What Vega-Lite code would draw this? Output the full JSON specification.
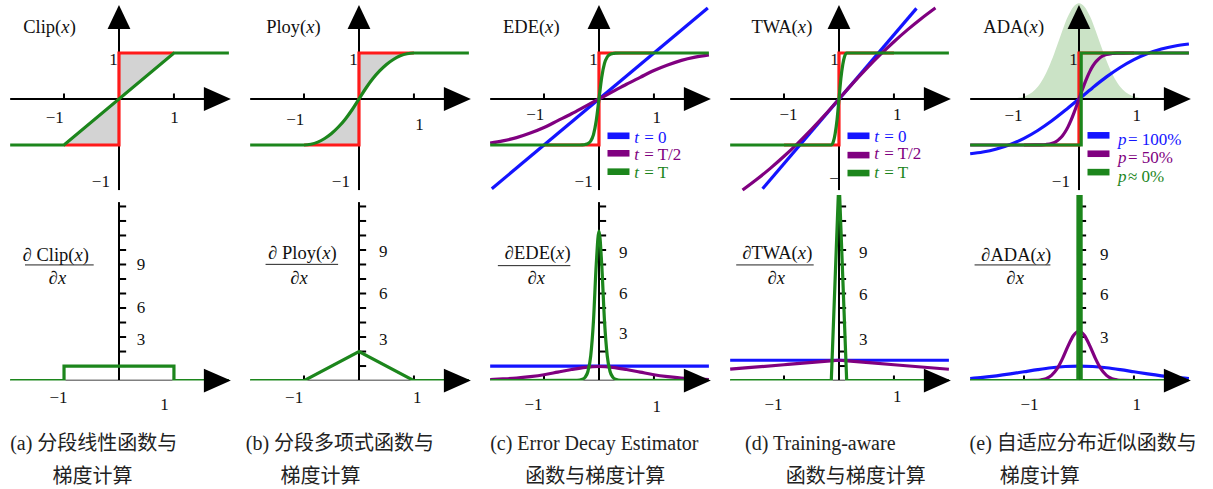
{
  "$schema": "https://vega.github.io/schema/vega-lite/v6.json",
  "padding": 0,
  "spacing": 0,
  "background": "white",
  "config": {"view": {"stroke": null}, "font": "Liberation Serif"},
  "datasets": {
    "top": [
      {"p":"a","k":"fill","g":1,"x":-1,"y":-1,"y2":-1},{"p":"a","k":"fill","g":1,"x":0,"y":0,"y2":-1},
      {"p":"a","k":"fill","g":2,"x":0,"y":1,"y2":0},{"p":"a","k":"fill","g":2,"x":1,"y":1,"y2":1},
      {"p":"b","k":"fill","g":1,"x":-1,"y":-1,"y2":-1},{"p":"b","k":"fill","g":1,"x":-0.875,"y":-0.984,"y2":-1},{"p":"b","k":"fill","g":1,"x":-0.75,"y":-0.938,"y2":-1},{"p":"b","k":"fill","g":1,"x":-0.625,"y":-0.859,"y2":-1},{"p":"b","k":"fill","g":1,"x":-0.5,"y":-0.75,"y2":-1},{"p":"b","k":"fill","g":1,"x":-0.375,"y":-0.609,"y2":-1},{"p":"b","k":"fill","g":1,"x":-0.25,"y":-0.438,"y2":-1},{"p":"b","k":"fill","g":1,"x":-0.125,"y":-0.234,"y2":-1},{"p":"b","k":"fill","g":1,"x":0,"y":0,"y2":-1},
      {"p":"b","k":"fill","g":2,"x":0,"y":1,"y2":0},{"p":"b","k":"fill","g":2,"x":0.125,"y":1,"y2":0.234},{"p":"b","k":"fill","g":2,"x":0.25,"y":1,"y2":0.438},{"p":"b","k":"fill","g":2,"x":0.375,"y":1,"y2":0.609},{"p":"b","k":"fill","g":2,"x":0.5,"y":1,"y2":0.75},{"p":"b","k":"fill","g":2,"x":0.625,"y":1,"y2":0.859},{"p":"b","k":"fill","g":2,"x":0.75,"y":1,"y2":0.938},{"p":"b","k":"fill","g":2,"x":0.875,"y":1,"y2":0.984},{"p":"b","k":"fill","g":2,"x":1,"y":1,"y2":1},
      {"p":"e","k":"shade","x":-1.4,"y":0.001},{"p":"e","k":"shade","x":-1.3,"y":0.004},{"p":"e","k":"shade","x":-1.2,"y":0.011},{"p":"e","k":"shade","x":-1.1,"y":0.025},{"p":"e","k":"shade","x":-1.0,"y":0.054},{"p":"e","k":"shade","x":-0.9,"y":0.109},{"p":"e","k":"shade","x":-0.8,"y":0.201},{"p":"e","k":"shade","x":-0.7,"y":0.348},{"p":"e","k":"shade","x":-0.6,"y":0.56},{"p":"e","k":"shade","x":-0.5,"y":0.835},{"p":"e","k":"shade","x":-0.4,"y":1.16},{"p":"e","k":"shade","x":-0.3,"y":1.497},{"p":"e","k":"shade","x":-0.2,"y":1.797},{"p":"e","k":"shade","x":-0.1,"y":2.005},{"p":"e","k":"shade","x":0,"y":2.08},{"p":"e","k":"shade","x":0.1,"y":2.005},{"p":"e","k":"shade","x":0.2,"y":1.797},{"p":"e","k":"shade","x":0.3,"y":1.497},{"p":"e","k":"shade","x":0.4,"y":1.16},{"p":"e","k":"shade","x":0.5,"y":0.835},{"p":"e","k":"shade","x":0.6,"y":0.56},{"p":"e","k":"shade","x":0.7,"y":0.348},{"p":"e","k":"shade","x":0.8,"y":0.201},{"p":"e","k":"shade","x":0.9,"y":0.109},{"p":"e","k":"shade","x":1.0,"y":0.054},{"p":"e","k":"shade","x":1.1,"y":0.025},{"p":"e","k":"shade","x":1.2,"y":0.011},{"p":"e","k":"shade","x":1.3,"y":0.004},{"p":"e","k":"shade","x":1.4,"y":0.001},
      {"p":"a","k":"xt","x":-1},{"p":"a","k":"xt","x":1},{"p":"b","k":"xt","x":-1},{"p":"b","k":"xt","x":1},{"p":"c","k":"xt","x":-1},{"p":"c","k":"xt","x":1},{"p":"d","k":"xt","x":-1},{"p":"d","k":"xt","x":1},{"p":"e","k":"xt","x":-1},{"p":"e","k":"xt","x":1},
      {"p":"a","k":"sign","x":-1,"y":-1},{"p":"a","k":"sign","x":0,"y":-1},{"p":"a","k":"sign","x":0,"y":1},{"p":"a","k":"sign","x":1,"y":1},
      {"p":"b","k":"sign","x":-1,"y":-1},{"p":"b","k":"sign","x":0,"y":-1},{"p":"b","k":"sign","x":0,"y":1},{"p":"b","k":"sign","x":1,"y":1},
      {"p":"c","k":"sign","x":-1,"y":-1},{"p":"c","k":"sign","x":0,"y":-1},{"p":"c","k":"sign","x":0,"y":1},{"p":"c","k":"sign","x":1,"y":1},
      {"p":"d","k":"sign","x":-1,"y":-1},{"p":"d","k":"sign","x":0,"y":-1},{"p":"d","k":"sign","x":0,"y":1},{"p":"d","k":"sign","x":1,"y":1},
      {"p":"e","k":"sign","x":-1,"y":-1},{"p":"e","k":"sign","x":0,"y":-1},{"p":"e","k":"sign","x":0,"y":1},{"p":"e","k":"sign","x":1,"y":1},
      {"p":"c","k":"blue","x":-1.95,"y":-1.95},{"p":"c","k":"blue","x":1.98,"y":1.98},
      {"p":"d","k":"blue","x":-1.39,"y":-1.95},{"p":"d","k":"blue","x":1.41,"y":1.97},
      {"p":"e","k":"blue","x":-1.98,"y":-1.19},{"p":"e","k":"blue","x":-1.75,"y":-1.153},{"p":"e","k":"blue","x":-1.5,"y":-1.086},{"p":"e","k":"blue","x":-1.25,"y":-0.988},{"p":"e","k":"blue","x":-1,"y":-0.856},{"p":"e","k":"blue","x":-0.75,"y":-0.685},{"p":"e","k":"blue","x":-0.5,"y":-0.48},{"p":"e","k":"blue","x":-0.25,"y":-0.247},{"p":"e","k":"blue","x":0,"y":0},{"p":"e","k":"blue","x":0.25,"y":0.247},{"p":"e","k":"blue","x":0.5,"y":0.48},{"p":"e","k":"blue","x":0.75,"y":0.685},{"p":"e","k":"blue","x":1,"y":0.856},{"p":"e","k":"blue","x":1.25,"y":0.988},{"p":"e","k":"blue","x":1.5,"y":1.086},{"p":"e","k":"blue","x":1.75,"y":1.153},{"p":"e","k":"blue","x":2.0,"y":1.196},
      {"p":"c","k":"purple","x":-1.98,"y":-0.96},{"p":"c","k":"purple","x":-1.75,"y":-0.91},{"p":"c","k":"purple","x":-1.5,"y":-0.84},{"p":"c","k":"purple","x":-1.25,"y":-0.74},{"p":"c","k":"purple","x":-1,"y":-0.62},{"p":"c","k":"purple","x":-0.75,"y":-0.47},{"p":"c","k":"purple","x":-0.5,"y":-0.32},{"p":"c","k":"purple","x":-0.25,"y":-0.16},{"p":"c","k":"purple","x":0,"y":0},{"p":"c","k":"purple","x":0.25,"y":0.16},{"p":"c","k":"purple","x":0.5,"y":0.32},{"p":"c","k":"purple","x":0.75,"y":0.47},{"p":"c","k":"purple","x":1,"y":0.62},{"p":"c","k":"purple","x":1.25,"y":0.74},{"p":"c","k":"purple","x":1.5,"y":0.84},{"p":"c","k":"purple","x":1.75,"y":0.91},{"p":"c","k":"purple","x":2.0,"y":0.96},
      {"p":"d","k":"purple","x":-1.755,"y":-1.98},{"p":"d","k":"purple","x":-1.5,"y":-1.751},{"p":"d","k":"purple","x":-1.25,"y":-1.508},{"p":"d","k":"purple","x":-1,"y":-1.245},{"p":"d","k":"purple","x":-0.75,"y":-0.963},{"p":"d","k":"purple","x":-0.5,"y":-0.661},{"p":"d","k":"purple","x":-0.25,"y":-0.34},{"p":"d","k":"purple","x":0,"y":0},{"p":"d","k":"purple","x":0.25,"y":0.34},{"p":"d","k":"purple","x":0.5,"y":0.661},{"p":"d","k":"purple","x":0.75,"y":0.963},{"p":"d","k":"purple","x":1,"y":1.245},{"p":"d","k":"purple","x":1.25,"y":1.508},{"p":"d","k":"purple","x":1.5,"y":1.751},{"p":"d","k":"purple","x":1.755,"y":1.98},
      {"p":"e","k":"purple","x":-1.98,"y":-1},{"p":"e","k":"purple","x":-1,"y":-1},{"p":"e","k":"purple","x":-0.8,"y":-0.9993},{"p":"e","k":"purple","x":-0.7,"y":-0.997},{"p":"e","k":"purple","x":-0.6,"y":-0.9893},{"p":"e","k":"purple","x":-0.5,"y":-0.9675},{"p":"e","k":"purple","x":-0.4,"y":-0.9128},{"p":"e","k":"purple","x":-0.35,"y":-0.8631},{"p":"e","k":"purple","x":-0.3,"y":-0.7981},{"p":"e","k":"purple","x":-0.25,"y":-0.7126},{"p":"e","k":"purple","x":-0.2,"y":-0.6057},{"p":"e","k":"purple","x":-0.15,"y":-0.4772},{"p":"e","k":"purple","x":-0.1,"y":-0.3295},{"p":"e","k":"purple","x":-0.05,"y":-0.1687},{"p":"e","k":"purple","x":0,"y":0},{"p":"e","k":"purple","x":0.05,"y":0.1687},{"p":"e","k":"purple","x":0.1,"y":0.3295},{"p":"e","k":"purple","x":0.15,"y":0.4772},{"p":"e","k":"purple","x":0.2,"y":0.6057},{"p":"e","k":"purple","x":0.25,"y":0.7126},{"p":"e","k":"purple","x":0.3,"y":0.7981},{"p":"e","k":"purple","x":0.35,"y":0.8631},{"p":"e","k":"purple","x":0.4,"y":0.9128},{"p":"e","k":"purple","x":0.5,"y":0.9675},{"p":"e","k":"purple","x":0.6,"y":0.9893},{"p":"e","k":"purple","x":0.7,"y":0.997},{"p":"e","k":"purple","x":0.8,"y":0.9993},{"p":"e","k":"purple","x":1,"y":1},{"p":"e","k":"purple","x":2.0,"y":1},
      {"p":"a","k":"gpw","x":-1.98,"y":-1},{"p":"a","k":"gpw","x":-1,"y":-1},{"p":"a","k":"gpw","x":1,"y":1},{"p":"a","k":"gpw","x":2.0,"y":1},
      {"p":"e","k":"gpw","x":-1.98,"y":-1},{"p":"e","k":"gpw","x":0.04,"y":-1},{"p":"e","k":"gpw","x":0.04,"y":1},{"p":"e","k":"gpw","x":2.0,"y":1},
      {"p":"b","k":"gsm","x":-1.98,"y":-1},{"p":"b","k":"gsm","x":-1,"y":-1},{"p":"b","k":"gsm","x":-0.875,"y":-0.984},{"p":"b","k":"gsm","x":-0.75,"y":-0.938},{"p":"b","k":"gsm","x":-0.625,"y":-0.859},{"p":"b","k":"gsm","x":-0.5,"y":-0.75},{"p":"b","k":"gsm","x":-0.375,"y":-0.609},{"p":"b","k":"gsm","x":-0.25,"y":-0.438},{"p":"b","k":"gsm","x":-0.125,"y":-0.234},{"p":"b","k":"gsm","x":0,"y":0},{"p":"b","k":"gsm","x":0.125,"y":0.234},{"p":"b","k":"gsm","x":0.25,"y":0.438},{"p":"b","k":"gsm","x":0.375,"y":0.609},{"p":"b","k":"gsm","x":0.5,"y":0.75},{"p":"b","k":"gsm","x":0.625,"y":0.859},{"p":"b","k":"gsm","x":0.75,"y":0.938},{"p":"b","k":"gsm","x":0.875,"y":0.984},{"p":"b","k":"gsm","x":1,"y":1},{"p":"b","k":"gsm","x":2.0,"y":1},
      {"p":"c","k":"gsm","x":-1.98,"y":-1},{"p":"c","k":"gsm","x":-0.4,"y":-1},{"p":"c","k":"gsm","x":-0.3,"y":-0.996},{"p":"c","k":"gsm","x":-0.25,"y":-0.988},{"p":"c","k":"gsm","x":-0.2,"y":-0.968},{"p":"c","k":"gsm","x":-0.15,"y":-0.913},{"p":"c","k":"gsm","x":-0.1,"y":-0.774},{"p":"c","k":"gsm","x":-0.05,"y":-0.474},{"p":"c","k":"gsm","x":0,"y":0},{"p":"c","k":"gsm","x":0.05,"y":0.474},{"p":"c","k":"gsm","x":0.1,"y":0.774},{"p":"c","k":"gsm","x":0.15,"y":0.913},{"p":"c","k":"gsm","x":0.2,"y":0.968},{"p":"c","k":"gsm","x":0.25,"y":0.988},{"p":"c","k":"gsm","x":0.3,"y":0.996},{"p":"c","k":"gsm","x":0.4,"y":1},{"p":"c","k":"gsm","x":2.0,"y":1},
      {"p":"d","k":"gsm","x":-1.98,"y":-1},{"p":"d","k":"gsm","x":-0.14,"y":-1},{"p":"d","k":"gsm","x":-0.1,"y":-0.92},{"p":"d","k":"gsm","x":-0.07,"y":-0.755},{"p":"d","k":"gsm","x":-0.035,"y":-0.449},{"p":"d","k":"gsm","x":0,"y":0},{"p":"d","k":"gsm","x":0.035,"y":0.449},{"p":"d","k":"gsm","x":0.07,"y":0.755},{"p":"d","k":"gsm","x":0.1,"y":0.92},{"p":"d","k":"gsm","x":0.14,"y":1},{"p":"d","k":"gsm","x":2.0,"y":1},
      {"p":"a","k":"lab","x":-0.1,"y":0.85,"t":"1"},{"p":"a","k":"lab","x":-0.33,"y":-1.8,"t":"−1"},{"p":"a","k":"lab","x":-1.17,"y":-0.41,"t":"−1"},{"p":"a","k":"lab","x":1.01,"y":-0.41,"t":"1"},
      {"p":"b","k":"lab","x":-0.1,"y":0.85,"t":"1"},{"p":"b","k":"lab","x":-0.33,"y":-1.8,"t":"−1"},{"p":"b","k":"lab","x":-1.16,"y":-0.46,"t":"−1"},{"p":"b","k":"lab","x":1.1,"y":-0.57,"t":"1"},
      {"p":"c","k":"lab","x":-0.1,"y":0.85,"t":"1"},{"p":"c","k":"lab","x":-0.28,"y":-1.8,"t":"−1"},{"p":"c","k":"lab","x":-1.16,"y":-0.35,"t":"−1"},{"p":"c","k":"lab","x":1.05,"y":-0.42,"t":"1"},
      {"p":"d","k":"lab","x":-0.08,"y":0.85,"t":"1"},{"p":"d","k":"lab","x":-0.09,"y":-1.74,"t":"−"},{"p":"d","k":"lab","x":-0.92,"y":-0.35,"t":"−1"},{"p":"d","k":"lab","x":1.06,"y":-0.35,"t":"1"},
      {"p":"e","k":"lab","x":-0.1,"y":0.85,"t":"1"},{"p":"e","k":"lab","x":-0.33,"y":-1.8,"t":"−1"},{"p":"e","k":"lab","x":-1.19,"y":-0.38,"t":"−1"},{"p":"e","k":"lab","x":1.05,"y":-0.38,"t":"1"},
      {"p":"a","k":"title","x":-1.05,"y":1.57,"t":"Clip("},{"p":"b","k":"title","x":-0.96,"y":1.57,"t":"Ploy("},{"p":"c","k":"title","x":-0.98,"y":1.57,"t":"EDE("},{"p":"d","k":"title","x":-0.75,"y":1.57,"t":"TWA("},{"p":"e","k":"title","x":-0.9,"y":1.57,"t":"ADA("},
      {"p":"c","k":"sw","s":"s1","x":0.355,"y":-0.8},{"p":"c","k":"sw","s":"s2","x":0.355,"y":-1.18},{"p":"c","k":"sw","s":"s3","x":0.355,"y":-1.58},
      {"p":"d","k":"sw","s":"s1","x":0.355,"y":-0.8},{"p":"d","k":"sw","s":"s2","x":0.355,"y":-1.22},{"p":"d","k":"sw","s":"s3","x":0.355,"y":-1.61},
      {"p":"e","k":"sw","s":"s1","x":0.355,"y":-0.79},{"p":"e","k":"sw","s":"s2","x":0.355,"y":-1.19},{"p":"e","k":"sw","s":"s3","x":0.355,"y":-1.59},
      {"p":"c","k":"lt","s":"s1","x":0.64,"y":-0.85,"t":"t","r":"= 0"},{"p":"c","k":"lt","s":"s2","x":0.64,"y":-1.21,"t":"t","r":"= T/2"},{"p":"c","k":"lt","s":"s3","x":0.64,"y":-1.6,"t":"t","r":"= T"},
      {"p":"d","k":"lt","s":"s1","x":0.64,"y":-0.82,"t":"t","r":"= 0"},{"p":"d","k":"lt","s":"s2","x":0.64,"y":-1.2,"t":"t","r":"= T/2"},{"p":"d","k":"lt","s":"s3","x":0.64,"y":-1.61,"t":"t","r":"= T"},
      {"p":"e","k":"lt","s":"s1","x":0.71,"y":-0.89,"t":"p","r":"= 100%"},{"p":"e","k":"lt","s":"s2","x":0.71,"y":-1.28,"t":"p","r":"= 50%"},{"p":"e","k":"lt","s":"s3","x":0.71,"y":-1.69,"t":"p","r":"≈ 0%"}
    ],
    "bot": [
      {"p":"a","k":"yt","y":1},{"p":"a","k":"yt","y":2},{"p":"a","k":"yt","y":3},{"p":"a","k":"yt","y":4},{"p":"a","k":"yt","y":5},{"p":"a","k":"yt","y":6},{"p":"a","k":"yt","y":7},{"p":"a","k":"yt","y":8},{"p":"a","k":"yt","y":9},{"p":"a","k":"yt","y":10},{"p":"a","k":"yt","y":11},{"p":"a","k":"yt","y":12},
      {"p":"b","k":"yt","y":1},{"p":"b","k":"yt","y":2},{"p":"b","k":"yt","y":3},{"p":"b","k":"yt","y":4},{"p":"b","k":"yt","y":5},{"p":"b","k":"yt","y":6},{"p":"b","k":"yt","y":7},{"p":"b","k":"yt","y":8},{"p":"b","k":"yt","y":9},{"p":"b","k":"yt","y":10},{"p":"b","k":"yt","y":11},{"p":"b","k":"yt","y":12},
      {"p":"c","k":"yt","y":1},{"p":"c","k":"yt","y":2},{"p":"c","k":"yt","y":3},{"p":"c","k":"yt","y":4},{"p":"c","k":"yt","y":5},{"p":"c","k":"yt","y":6},{"p":"c","k":"yt","y":7},{"p":"c","k":"yt","y":8},{"p":"c","k":"yt","y":9},{"p":"c","k":"yt","y":10},{"p":"c","k":"yt","y":11},{"p":"c","k":"yt","y":12},
      {"p":"d","k":"yt","y":1},{"p":"d","k":"yt","y":2},{"p":"d","k":"yt","y":3},{"p":"d","k":"yt","y":4},{"p":"d","k":"yt","y":5},{"p":"d","k":"yt","y":6},{"p":"d","k":"yt","y":7},{"p":"d","k":"yt","y":8},{"p":"d","k":"yt","y":9},{"p":"d","k":"yt","y":10},{"p":"d","k":"yt","y":11},{"p":"d","k":"yt","y":12},
      {"p":"e","k":"yt","y":1},{"p":"e","k":"yt","y":2},{"p":"e","k":"yt","y":3},{"p":"e","k":"yt","y":4},{"p":"e","k":"yt","y":5},{"p":"e","k":"yt","y":6},{"p":"e","k":"yt","y":7},{"p":"e","k":"yt","y":8},{"p":"e","k":"yt","y":9},{"p":"e","k":"yt","y":10},{"p":"e","k":"yt","y":11},{"p":"e","k":"yt","y":12},
      {"p":"a","k":"xt","x":-1},{"p":"a","k":"xt","x":1},{"p":"b","k":"xt","x":-1},{"p":"b","k":"xt","x":1},{"p":"c","k":"xt","x":-1},{"p":"c","k":"xt","x":1},{"p":"d","k":"xt","x":-1},{"p":"d","k":"xt","x":1},{"p":"e","k":"xt","x":-1},{"p":"e","k":"xt","x":1},
      {"p":"c","k":"blue","x":-1.98,"y":1},{"p":"c","k":"blue","x":2.0,"y":1},
      {"p":"d","k":"blue","x":-1.98,"y":1.4},{"p":"d","k":"blue","x":2.0,"y":1.4},
      {"p":"e","k":"blue","x":-1.98,"y":0.141},{"p":"e","k":"blue","x":-1.75,"y":0.216},{"p":"e","k":"blue","x":-1.5,"y":0.325},{"p":"e","k":"blue","x":-1.25,"y":0.458},{"p":"e","k":"blue","x":-1,"y":0.607},{"p":"e","k":"blue","x":-0.75,"y":0.755},{"p":"e","k":"blue","x":-0.5,"y":0.883},{"p":"e","k":"blue","x":-0.25,"y":0.969},{"p":"e","k":"blue","x":0,"y":1},{"p":"e","k":"blue","x":0.25,"y":0.969},{"p":"e","k":"blue","x":0.5,"y":0.883},{"p":"e","k":"blue","x":0.75,"y":0.755},{"p":"e","k":"blue","x":1,"y":0.607},{"p":"e","k":"blue","x":1.25,"y":0.458},{"p":"e","k":"blue","x":1.5,"y":0.325},{"p":"e","k":"blue","x":1.75,"y":0.216},{"p":"e","k":"blue","x":2.0,"y":0.135},
      {"p":"c","k":"purple","x":-1.98,"y":0.07},{"p":"c","k":"purple","x":-1.75,"y":0.11},{"p":"c","k":"purple","x":-1.5,"y":0.17},{"p":"c","k":"purple","x":-1.25,"y":0.27},{"p":"c","k":"purple","x":-1,"y":0.4},{"p":"c","k":"purple","x":-0.75,"y":0.58},{"p":"c","k":"purple","x":-0.5,"y":0.76},{"p":"c","k":"purple","x":-0.25,"y":0.91},{"p":"c","k":"purple","x":0,"y":0.97},{"p":"c","k":"purple","x":0.25,"y":0.91},{"p":"c","k":"purple","x":0.5,"y":0.76},{"p":"c","k":"purple","x":0.75,"y":0.58},{"p":"c","k":"purple","x":1,"y":0.4},{"p":"c","k":"purple","x":1.25,"y":0.27},{"p":"c","k":"purple","x":1.5,"y":0.17},{"p":"c","k":"purple","x":1.75,"y":0.11},{"p":"c","k":"purple","x":2.0,"y":0.07},
      {"p":"d","k":"purple","x":-1.98,"y":0.786},{"p":"d","k":"purple","x":-1,"y":1.09},{"p":"d","k":"purple","x":-0.1,"y":1.369},{"p":"d","k":"purple","x":0,"y":1.4},{"p":"d","k":"purple","x":0.1,"y":1.369},{"p":"d","k":"purple","x":1,"y":1.09},{"p":"d","k":"purple","x":2.0,"y":0.78},
      {"p":"e","k":"purple","x":-1.98,"y":0},{"p":"e","k":"purple","x":-1,"y":0},{"p":"e","k":"purple","x":-0.8,"y":0.01},{"p":"e","k":"purple","x":-0.7,"y":0.04},{"p":"e","k":"purple","x":-0.6,"y":0.13},{"p":"e","k":"purple","x":-0.5,"y":0.354},{"p":"e","k":"purple","x":-0.4,"y":0.8},{"p":"e","k":"purple","x":-0.3,"y":1.51},{"p":"e","k":"purple","x":-0.2,"y":2.37},{"p":"e","k":"purple","x":-0.1,"y":3.11},{"p":"e","k":"purple","x":0,"y":3.4},{"p":"e","k":"purple","x":0.1,"y":3.11},{"p":"e","k":"purple","x":0.2,"y":2.37},{"p":"e","k":"purple","x":0.3,"y":1.51},{"p":"e","k":"purple","x":0.4,"y":0.8},{"p":"e","k":"purple","x":0.5,"y":0.354},{"p":"e","k":"purple","x":0.6,"y":0.13},{"p":"e","k":"purple","x":0.7,"y":0.04},{"p":"e","k":"purple","x":0.8,"y":0.01},{"p":"e","k":"purple","x":1,"y":0},{"p":"e","k":"purple","x":2.0,"y":0},
      {"p":"a","k":"gpw","x":-1.98,"y":0},{"p":"a","k":"gpw","x":-1,"y":0},{"p":"a","k":"gpw","x":-1,"y":1},{"p":"a","k":"gpw","x":1,"y":1},{"p":"a","k":"gpw","x":1,"y":0},{"p":"a","k":"gpw","x":2.0,"y":0},
      {"p":"b","k":"gpw","x":-1.98,"y":0},{"p":"b","k":"gpw","x":-1,"y":0},{"p":"b","k":"gpw","x":0,"y":2},{"p":"b","k":"gpw","x":1,"y":0},{"p":"b","k":"gpw","x":2.0,"y":0},
      {"p":"d","k":"gpw","x":-1.98,"y":0},{"p":"d","k":"gpw","x":-0.14,"y":0},{"p":"d","k":"gpw","x":0,"y":14},{"p":"d","k":"gpw","x":0.14,"y":0},{"p":"d","k":"gpw","x":2.0,"y":0},
      {"p":"e","k":"gpw","x":-1.98,"y":0},{"p":"e","k":"gpw","x":-0.02,"y":0},{"p":"e","k":"gpw","x":0.01,"y":200},{"p":"e","k":"gpw","x":0.04,"y":0},{"p":"e","k":"gpw","x":2.0,"y":0},
      {"p":"c","k":"gsm","x":-1.98,"y":0},{"p":"c","k":"gsm","x":-0.4,"y":0.01},{"p":"c","k":"gsm","x":-0.3,"y":0.09},{"p":"c","k":"gsm","x":-0.25,"y":0.24},{"p":"c","k":"gsm","x":-0.2,"y":0.64},{"p":"c","k":"gsm","x":-0.15,"y":1.71},{"p":"c","k":"gsm","x":-0.1,"y":4.13},{"p":"c","k":"gsm","x":-0.05,"y":7.99},{"p":"c","k":"gsm","x":0,"y":10.3},{"p":"c","k":"gsm","x":0.05,"y":7.99},{"p":"c","k":"gsm","x":0.1,"y":4.13},{"p":"c","k":"gsm","x":0.15,"y":1.71},{"p":"c","k":"gsm","x":0.2,"y":0.64},{"p":"c","k":"gsm","x":0.25,"y":0.24},{"p":"c","k":"gsm","x":0.3,"y":0.09},{"p":"c","k":"gsm","x":0.4,"y":0.01},{"p":"c","k":"gsm","x":2.0,"y":0},
      {"p":"a","k":"lab","x":0.4,"y":7.97,"t":"9"},{"p":"a","k":"lab","x":0.4,"y":5.0,"t":"6"},{"p":"a","k":"lab","x":0.4,"y":2.8,"t":"3"},{"p":"a","k":"lab","x":-1.1,"y":-1.21,"t":"−1"},{"p":"a","k":"lab","x":0.83,"y":-1.69,"t":"1"},
      {"p":"b","k":"lab","x":0.44,"y":8.86,"t":"9"},{"p":"b","k":"lab","x":0.44,"y":5.97,"t":"6"},{"p":"b","k":"lab","x":0.44,"y":2.8,"t":"3"},{"p":"b","k":"lab","x":-1.18,"y":-1.21,"t":"−1"},{"p":"b","k":"lab","x":1.06,"y":-1.21,"t":"1"},
      {"p":"c","k":"lab","x":0.44,"y":8.8,"t":"9"},{"p":"c","k":"lab","x":0.44,"y":5.97,"t":"6"},{"p":"c","k":"lab","x":0.44,"y":3.2,"t":"3"},{"p":"c","k":"lab","x":-1.19,"y":-1.69,"t":"−1"},{"p":"c","k":"lab","x":1.05,"y":-1.8,"t":"1"},
      {"p":"d","k":"lab","x":0.44,"y":8.8,"t":"9"},{"p":"d","k":"lab","x":0.44,"y":5.9,"t":"6"},{"p":"d","k":"lab","x":0.44,"y":2.8,"t":"3"},{"p":"d","k":"lab","x":-1.19,"y":-1.69,"t":"−1"},{"p":"d","k":"lab","x":1.06,"y":-1.11,"t":"1"},
      {"p":"e","k":"lab","x":0.46,"y":8.65,"t":"9"},{"p":"e","k":"lab","x":0.46,"y":5.9,"t":"6"},{"p":"e","k":"lab","x":0.46,"y":2.9,"t":"3"},{"p":"e","k":"lab","x":-0.9,"y":-1.69,"t":"−1"},{"p":"e","k":"lab","x":1.05,"y":-1.69,"t":"1"},
      {"p":"a","k":"num","x":-0.81,"y":8.66,"t":"∂ Clip("},{"p":"b","k":"num","x":-0.67,"y":8.8,"t":"∂ Ploy("},{"p":"c","k":"num","x":-0.78,"y":8.8,"t":"∂EDE("},{"p":"d","k":"num","x":-0.75,"y":8.8,"t":"∂TWA("},{"p":"e","k":"num","x":-0.77,"y":8.66,"t":"∂ADA("},
      {"p":"a","k":"fl","x":-1.71,"x2":-0.46,"y":7.97},{"p":"b","k":"fl","x":-1.7,"x2":-0.38,"y":8.01},{"p":"c","k":"fl","x":-1.84,"x2":-0.52,"y":7.92},{"p":"d","k":"fl","x":-1.87,"x2":-0.46,"y":7.97},{"p":"e","k":"fl","x":-1.9,"x2":-0.52,"y":7.97},
      {"p":"a","k":"den","x":-1.12,"y":7.07,"t":"∂x"},{"p":"b","k":"den","x":-1.09,"y":7.07,"t":"∂x"},{"p":"c","k":"den","x":-1.14,"y":7.07,"t":"∂x"},{"p":"d","k":"den","x":-1.14,"y":7.07,"t":"∂x"},{"p":"e","k":"den","x":-1.16,"y":7.07,"t":"∂x"}
    ],
    "cap": [
      {"p":"a","t1":"(a) 分段线性函数与","t2":"梯度计算","x1":-1.98,"x2":-1.21},
      {"p":"b","t1":"(b) 分段多项式函数与","t2":"梯度计算","x1":-2.06,"x2":-1.43},
      {"p":"c","t1":"(c) Error Decay Estimator","t2":"函数与梯度计算","x1":-1.98,"x2":-1.34},
      {"p":"d","t1":"(d) Training-aware","t2":"函数与梯度计算","x1":-1.71,"x2":-0.97},
      {"p":"e","t1":"(e) 自适应分布近似函数与","t2":"梯度计算","x1":-1.99,"x2":-1.44}
    ]
  },
  "vconcat": [
    {
      "data": {"name": "top"},
      "spacing": 0,
      "facet": {"column": {"field": "p", "type": "nominal", "title": null, "header": {"labels": false, "title": null}}},
      "spec": {
        "width": 240,
        "height": 195,
        "layer": [
          {"transform": [{"filter": "datum.k == 'fill'"}], "mark": {"type": "area", "color": "#d3d3d3"},
           "encoding": {"x": {"field": "x", "type": "quantitative", "scale": {"domain": [-2.165, 2.202], "nice": false, "zero": false}, "axis": null},
                        "y": {"field": "y", "type": "quantitative", "scale": {"domain": [-2.087, 2.152], "nice": false, "zero": false}, "axis": null},
                        "y2": {"field": "y2"}, "detail": {"field": "g", "type": "nominal"}}},
          {"transform": [{"filter": "datum.k == 'shade'"}], "mark": {"type": "area", "color": "#cbe3c6", "interpolate": "monotone"},
           "encoding": {"x": {"field": "x", "type": "quantitative"}, "y": {"field": "y", "type": "quantitative"}, "y2": {"datum": 0}}},
          {"transform": [{"filter": "datum.k == 'title'"}], "mark": {"type": "rule", "color": "black", "strokeWidth": 2},
           "encoding": {"x": {"datum": -1.98, "type": "quantitative"}, "x2": {"datum": 1.6}, "y": {"datum": 0, "type": "quantitative"}}},
          {"transform": [{"filter": "datum.k == 'title'"}], "mark": {"type": "rule", "color": "black", "strokeWidth": 2},
           "encoding": {"x": {"datum": 0, "type": "quantitative"}, "y": {"datum": -1.98, "type": "quantitative"}, "y2": {"datum": 1.7}}},
          {"transform": [{"filter": "datum.k == 'xt'"}], "mark": {"type": "rule", "color": "black", "strokeWidth": 2},
           "encoding": {"x": {"field": "x", "type": "quantitative"}, "y": {"datum": 0, "type": "quantitative"}, "y2": {"datum": 0.12}}},
          {"transform": [{"filter": "datum.k == 'sign'"}], "mark": {"type": "line", "color": "#ff1a1a", "strokeWidth": 3.2, "clip": true},
           "encoding": {"x": {"field": "x", "type": "quantitative"}, "y": {"field": "y", "type": "quantitative"}, "detail": {"field": "p", "type": "nominal"}}},
          {"transform": [{"filter": "datum.k == 'blue'"}], "mark": {"type": "line", "color": "#1414ff", "strokeWidth": 3.2, "interpolate": "monotone", "clip": true},
           "encoding": {"x": {"field": "x", "type": "quantitative"}, "y": {"field": "y", "type": "quantitative"}}},
          {"transform": [{"filter": "datum.k == 'purple'"}], "mark": {"type": "line", "color": "#800080", "strokeWidth": 3.2, "interpolate": "monotone", "clip": true},
           "encoding": {"x": {"field": "x", "type": "quantitative"}, "y": {"field": "y", "type": "quantitative"}}},
          {"transform": [{"filter": "datum.k == 'gpw'"}], "mark": {"type": "line", "color": "#1c861c", "strokeWidth": 3.2, "clip": true},
           "encoding": {"x": {"field": "x", "type": "quantitative"}, "y": {"field": "y", "type": "quantitative"}}},
          {"transform": [{"filter": "datum.k == 'gsm'"}], "mark": {"type": "line", "color": "#1c861c", "strokeWidth": 3.2, "interpolate": "monotone", "clip": true},
           "encoding": {"x": {"field": "x", "type": "quantitative"}, "y": {"field": "y", "type": "quantitative"}}},
          {"transform": [{"filter": "datum.k == 'title'"}], "mark": {"type": "point", "shape": "M-1,-0.88L1,0L-1,0.88Z", "filled": true, "color": "black", "opacity": 1, "size": 729, "strokeWidth": 0},
           "encoding": {"x": {"datum": 1.79, "type": "quantitative"}, "y": {"datum": 0, "type": "quantitative"}}},
          {"transform": [{"filter": "datum.k == 'title'"}], "mark": {"type": "point", "shape": "M-0.95,1L0,-1L0.95,1Z", "filled": true, "color": "black", "opacity": 1, "size": 576, "strokeWidth": 0},
           "encoding": {"x": {"datum": 0, "type": "quantitative"}, "y": {"datum": 1.78, "type": "quantitative"}}},
          {"transform": [{"filter": "datum.k == 'lab'"}], "mark": {"type": "text", "font": "Liberation Serif", "fontSize": 17, "align": "center", "baseline": "middle", "color": "#111"},
           "encoding": {"x": {"field": "x", "type": "quantitative"}, "y": {"field": "y", "type": "quantitative"}, "text": {"field": "t"}}},
          {"transform": [{"filter": "datum.k == 'title'"}], "mark": {"type": "text", "font": "Liberation Serif", "fontSize": 18.5, "align": "right", "baseline": "middle", "color": "#111"},
           "encoding": {"x": {"field": "x", "type": "quantitative"}, "y": {"field": "y", "type": "quantitative"}, "text": {"field": "t"}}},
          {"transform": [{"filter": "datum.k == 'title'"}], "mark": {"type": "text", "font": "Liberation Serif", "fontSize": 18.5, "fontStyle": "italic", "align": "left", "baseline": "middle", "color": "#111"},
           "encoding": {"x": {"field": "x", "type": "quantitative"}, "y": {"field": "y", "type": "quantitative"}, "text": {"value": "x"}}},
          {"transform": [{"filter": "datum.k == 'title'"}], "mark": {"type": "text", "font": "Liberation Serif", "fontSize": 18.5, "align": "left", "baseline": "middle", "dx": 8.4, "color": "#111"},
           "encoding": {"x": {"field": "x", "type": "quantitative"}, "y": {"field": "y", "type": "quantitative"}, "text": {"value": ")"}}},
          {"transform": [{"filter": "datum.k == 'sw'"}], "mark": {"type": "point", "shape": "M-1,-0.3L1,-0.3L1,0.3L-1,0.3Z", "filled": true, "opacity": 1, "size": 484, "strokeWidth": 0},
           "encoding": {"x": {"field": "x", "type": "quantitative"}, "y": {"field": "y", "type": "quantitative"},
                        "color": {"field": "s", "type": "nominal", "scale": {"domain": ["s1", "s2", "s3"], "range": ["#1414ff", "#800080", "#1c861c"]}, "legend": null}}},
          {"transform": [{"filter": "datum.k == 'lt'"}], "mark": {"type": "text", "font": "Liberation Serif", "fontSize": 17, "fontStyle": "italic", "align": "left", "baseline": "middle"},
           "encoding": {"x": {"field": "x", "type": "quantitative"}, "y": {"field": "y", "type": "quantitative"}, "text": {"field": "t"},
                        "color": {"field": "s", "type": "nominal", "legend": null}}},
          {"transform": [{"filter": "datum.k == 'lt'"}], "mark": {"type": "text", "font": "Liberation Serif", "fontSize": 17, "align": "left", "baseline": "middle", "dx": 10},
           "encoding": {"x": {"field": "x", "type": "quantitative"}, "y": {"field": "y", "type": "quantitative"}, "text": {"field": "r"},
                        "color": {"field": "s", "type": "nominal", "legend": null}}}
        ]
      }
    },
    {
      "data": {"name": "bot"},
      "spacing": 0,
      "facet": {"column": {"field": "p", "type": "nominal", "title": null, "header": {"labels": false, "title": null}}},
      "spec": {
        "width": 240,
        "height": 215,
        "layer": [
          {"transform": [{"filter": "datum.k == 'num'"}], "mark": {"type": "rule", "color": "black", "strokeWidth": 2},
           "encoding": {"x": {"datum": 0, "type": "quantitative", "scale": {"domain": [-2.165, 2.202], "nice": false, "zero": false}, "axis": null},
                        "y": {"datum": 0, "type": "quantitative", "scale": {"domain": [-2.03, 12.79], "nice": false, "zero": false}, "axis": null},
                        "y2": {"datum": 12.3}}},
          {"transform": [{"filter": "datum.k == 'num'"}], "mark": {"type": "rule", "color": "black", "strokeWidth": 1.5},
           "encoding": {"x": {"datum": -1.98, "type": "quantitative"}, "x2": {"datum": 1.6}, "y": {"datum": 0, "type": "quantitative"}}},
          {"transform": [{"filter": "datum.k == 'yt'"}], "mark": {"type": "rule", "color": "black", "strokeWidth": 2},
           "encoding": {"x": {"datum": 0, "type": "quantitative"}, "x2": {"datum": 0.13}, "y": {"field": "y", "type": "quantitative"}}},
          {"transform": [{"filter": "datum.k == 'xt'"}], "mark": {"type": "rule", "color": "black", "strokeWidth": 2},
           "encoding": {"x": {"field": "x", "type": "quantitative"}, "y": {"datum": 0, "type": "quantitative"}, "y2": {"datum": 0.35}}},
          {"transform": [{"filter": "datum.k == 'blue'"}], "mark": {"type": "line", "color": "#1414ff", "strokeWidth": 3.2, "interpolate": "monotone", "clip": true},
           "encoding": {"x": {"field": "x", "type": "quantitative"}, "y": {"field": "y", "type": "quantitative"}}},
          {"transform": [{"filter": "datum.k == 'purple'"}], "mark": {"type": "line", "color": "#800080", "strokeWidth": 3.2, "interpolate": "monotone", "clip": true},
           "encoding": {"x": {"field": "x", "type": "quantitative"}, "y": {"field": "y", "type": "quantitative"}}},
          {"transform": [{"filter": "datum.k == 'gpw'"}], "mark": {"type": "line", "color": "#1c861c", "strokeWidth": 3.2, "clip": true},
           "encoding": {"x": {"field": "x", "type": "quantitative"}, "y": {"field": "y", "type": "quantitative"}}},
          {"transform": [{"filter": "datum.k == 'gsm'"}], "mark": {"type": "line", "color": "#1c861c", "strokeWidth": 3.2, "interpolate": "monotone", "clip": true},
           "encoding": {"x": {"field": "x", "type": "quantitative"}, "y": {"field": "y", "type": "quantitative"}}},
          {"transform": [{"filter": "datum.k == 'num'"}], "mark": {"type": "rect", "color": "white", "opacity": 1},
           "encoding": {"x": {"datum": -2.165, "type": "quantitative"}, "x2": {"datum": 2.202}, "y": {"datum": -2.03, "type": "quantitative"}, "y2": {"datum": 0}}},
          {"transform": [{"filter": "datum.k == 'num'"}], "mark": {"type": "point", "shape": "M-1,-0.88L1,0L-1,0.88Z", "filled": true, "color": "black", "opacity": 1, "size": 729, "strokeWidth": 0},
           "encoding": {"x": {"datum": 1.79, "type": "quantitative"}, "y": {"datum": 0, "type": "quantitative"}}},
          {"transform": [{"filter": "datum.k == 'lab'"}], "mark": {"type": "text", "font": "Liberation Serif", "fontSize": 17, "align": "center", "baseline": "middle", "color": "#111"},
           "encoding": {"x": {"field": "x", "type": "quantitative"}, "y": {"field": "y", "type": "quantitative"}, "text": {"field": "t"}}},
          {"transform": [{"filter": "datum.k == 'num'"}], "mark": {"type": "text", "font": "Liberation Serif", "fontSize": 18.5, "align": "right", "baseline": "middle", "color": "#111"},
           "encoding": {"x": {"field": "x", "type": "quantitative"}, "y": {"field": "y", "type": "quantitative"}, "text": {"field": "t"}}},
          {"transform": [{"filter": "datum.k == 'num'"}], "mark": {"type": "text", "font": "Liberation Serif", "fontSize": 18.5, "fontStyle": "italic", "align": "left", "baseline": "middle", "color": "#111"},
           "encoding": {"x": {"field": "x", "type": "quantitative"}, "y": {"field": "y", "type": "quantitative"}, "text": {"value": "x"}}},
          {"transform": [{"filter": "datum.k == 'num'"}], "mark": {"type": "text", "font": "Liberation Serif", "fontSize": 18.5, "align": "left", "baseline": "middle", "dx": 8.4, "color": "#111"},
           "encoding": {"x": {"field": "x", "type": "quantitative"}, "y": {"field": "y", "type": "quantitative"}, "text": {"value": ")"}}},
          {"transform": [{"filter": "datum.k == 'fl'"}], "mark": {"type": "rule", "color": "#222", "strokeWidth": 1},
           "encoding": {"x": {"field": "x", "type": "quantitative"}, "x2": {"field": "x2"}, "y": {"field": "y", "type": "quantitative"}}},
          {"transform": [{"filter": "datum.k == 'den'"}], "mark": {"type": "text", "font": "Liberation Serif", "fontSize": 18.5, "fontStyle": "italic", "align": "center", "baseline": "middle", "color": "#111"},
           "encoding": {"x": {"field": "x", "type": "quantitative"}, "y": {"field": "y", "type": "quantitative"}, "text": {"field": "t"}}}
        ]
      }
    },
    {
      "data": {"name": "cap"},
      "spacing": 0,
      "facet": {"column": {"field": "p", "type": "nominal", "title": null, "header": {"labels": false, "title": null}}},
      "spec": {
        "width": 240,
        "height": 79,
        "layer": [
          {"mark": {"type": "text", "font": "Liberation Serif, Noto Sans CJK SC", "fontSize": 20, "align": "left", "baseline": "middle", "color": "#222"},
           "encoding": {"x": {"field": "x1", "type": "quantitative", "scale": {"domain": [-2.165, 2.202], "nice": false, "zero": false}, "axis": null},
                        "y": {"datum": 1, "type": "quantitative", "scale": {"domain": [0.121, 2.515], "reverse": true, "nice": false, "zero": false}, "axis": null},
                        "text": {"field": "t1"}}},
          {"mark": {"type": "text", "font": "Liberation Serif, Noto Sans CJK SC", "fontSize": 20, "align": "left", "baseline": "middle", "color": "#222"},
           "encoding": {"x": {"field": "x2", "type": "quantitative"}, "y": {"datum": 2, "type": "quantitative"}, "text": {"field": "t2"}}}
        ]
      }
    }
  ]
}
